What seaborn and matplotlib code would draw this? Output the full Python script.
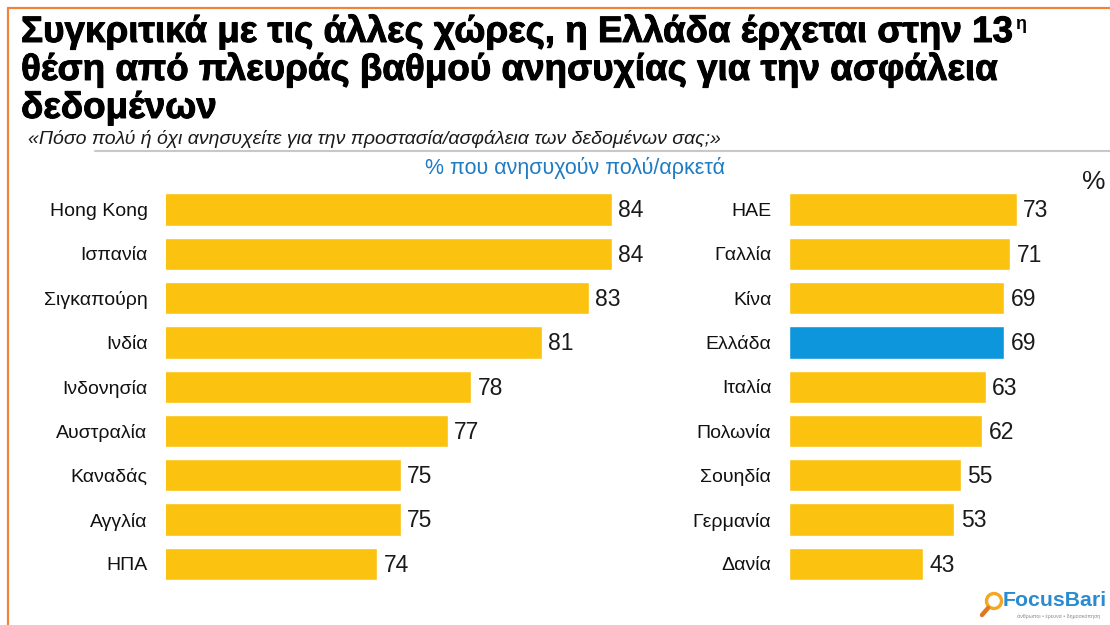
import matplotlib
matplotlib.use("Agg")
import matplotlib.pyplot as plt
import matplotlib.patheffects as pe
from matplotlib.lines import Line2D
from matplotlib.patches import Circle
import seaborn as sns
import pandas as pd

# Survey results: share (%) worried a lot / quite a lot about data security
left_countries = ["Hong Kong", "Ισπανία", "Σιγκαπούρη", "Ινδία", "Ινδονησία",
                  "Αυστραλία", "Καναδάς", "Αγγλία", "ΗΠΑ"]
left_values = [84, 84, 83, 81, 78, 77, 75, 75, 74]

right_countries = ["ΗΑΕ", "Γαλλία", "Κίνα", "Ελλάδα", "Ιταλία",
                   "Πολωνία", "Σουηδία", "Γερμανία", "Δανία"]
right_values = [73, 71, 69, 69, 63, 62, 55, 53, 43]

highlight = "Ελλάδα"

title_lines = ["Συγκριτικά με τις άλλες χώρες, η Ελλάδα έρχεται στην 13",
               "θέση από πλευράς βαθμού ανησυχίας για την ασφάλεια",
               "δεδομένων"]
title_sup = "η"
question = "«Πόσο πολύ ή όχι ανησυχείτε για την προστασία/ασφάλεια των δεδομένων σας;»"
measure = "% που ανησυχούν πολύ/αρκετά"

YELLOW = "#FCC210"
BLUE = "#0E96DC"
TEXT_BLUE = "#1F7CC3"
FRAME = "#F0843C"

sns.set_style("white")
plt.rcParams["font.family"] = ["Liberation Sans", "DejaVu Sans"]

W, H = 1110, 625
fig = plt.figure(figsize=(W / 100, H / 100), dpi=100)
fig.patch.set_facecolor("white")


def fx(px):
    return px / W


def fy(py):
    return 1 - py / H


# bar rows: first row centre at 209.5 px, 44.3 px apart
row_top = 209.5 - 22.15
row_bot = 209.5 + 8 * 44.3 + 22.15
ax_bottom = fy(row_bot)
ax_height = (row_bot - row_top) / H

# left panel uses a truncated scale starting at 65, right panel starts at 0
ax_l = fig.add_axes([fx(165.7), ax_bottom, fx(700 - 165.7), ax_height])
ax_r = fig.add_axes([fx(789.4), ax_bottom, fx(311.3), ax_height])


def panel(ax, countries, values, xlim):
    df = pd.DataFrame({"country": countries, "value": values})
    pal = {c: (BLUE if c == highlight else YELLOW) for c in countries}
    sns.barplot(data=df, x="value", y="country", hue="country", palette=pal,
                legend=False, width=0.73, saturation=1, ax=ax)
    ax.set_xlim(*xlim)
    ax.set_ylim(len(countries) - 0.5, -0.5)
    for i, v in enumerate(values):
        ax.annotate(str(v), xy=(v, i), xytext=(4.5, -1), textcoords="offset points",
                    ha="left", va="center", fontsize=16.5, color="#1a1a1a",
                    annotation_clip=False)
    ax.set_xlabel("")
    ax.set_ylabel("")
    ax.set_xticks([])
    ax.tick_params(axis="y", length=0, pad=13, labelsize=14, labelcolor="#111111")
    for s in ax.spines.values():
        s.set_visible(False)
    ax.patch.set_alpha(0)


panel(ax_l, left_countries, left_values, (65, 65 + (700 - 165.7) / 23.5))
panel(ax_r, right_countries, right_values, (0, 100))

# title
heavy = [pe.withStroke(linewidth=0.7, foreground="black")]
baselines = [42, 80, 118]
title_texts = []
for line, base in zip(title_lines, baselines):
    title_texts.append(fig.text(fx(21), fy(base), line, fontsize=26.5, fontweight="bold",
                                color="black", va="baseline", ha="left",
                                path_effects=heavy))
fig.canvas.draw()
bb = title_texts[0].get_window_extent(fig.canvas.get_renderer())
fig.text((bb.x1 + 4) / W, fy(29), title_sup, fontsize=13, fontweight="bold",
         color="black", va="baseline", ha="left")

# question and measure
fig.text(fx(28), fy(144), question, fontsize=14, style="italic",
         color="#1a1a1a", va="baseline", ha="left")
fig.add_artist(Line2D([fx(95), 1.0], [fy(151), fy(151)], color="#c8c8c8",
                      lw=1.5, transform=fig.transFigure))
fig.text(fx(575), fy(168), measure, fontsize=15.5, color=TEXT_BLUE,
         va="center", ha="center")
fig.text(fx(1094), fy(182), "%", fontsize=19, color="#1a1a1a",
         va="center", ha="center")

# orange frame (top and left edges)
fig.add_artist(Line2D([fx(8), 1.0], [fy(8), fy(8)], color=FRAME, lw=1.6,
                      transform=fig.transFigure))
fig.add_artist(Line2D([fx(8), fx(8)], [0.0, fy(8)], color=FRAME, lw=1.6,
                      transform=fig.transFigure))

# FocusBari logo
fig.add_artist(Circle((994 / 100, (H - 601) / 100), 0.075, fill=False,
                      edgecolor="#F5A623", lw=2.4, transform=fig.dpi_scale_trans))
fig.add_artist(Line2D([988 / 100, 982 / 100], [(H - 608) / 100, (H - 615) / 100],
                      color="#E07820", lw=3.2, solid_capstyle="round",
                      transform=fig.dpi_scale_trans))
fig.text(fx(1003), fy(601), "FocusBari", fontsize=15.3, fontweight="bold",
         color="#2A8BD0", va="center", ha="left")
fig.text(fx(1017), fy(616), "άνθρωποι • έρευνα • δημοσκόπηση", fontsize=3.8,
         color="#888888", va="center", ha="left")

fig.savefig("out.png", dpi=100, facecolor="white")
